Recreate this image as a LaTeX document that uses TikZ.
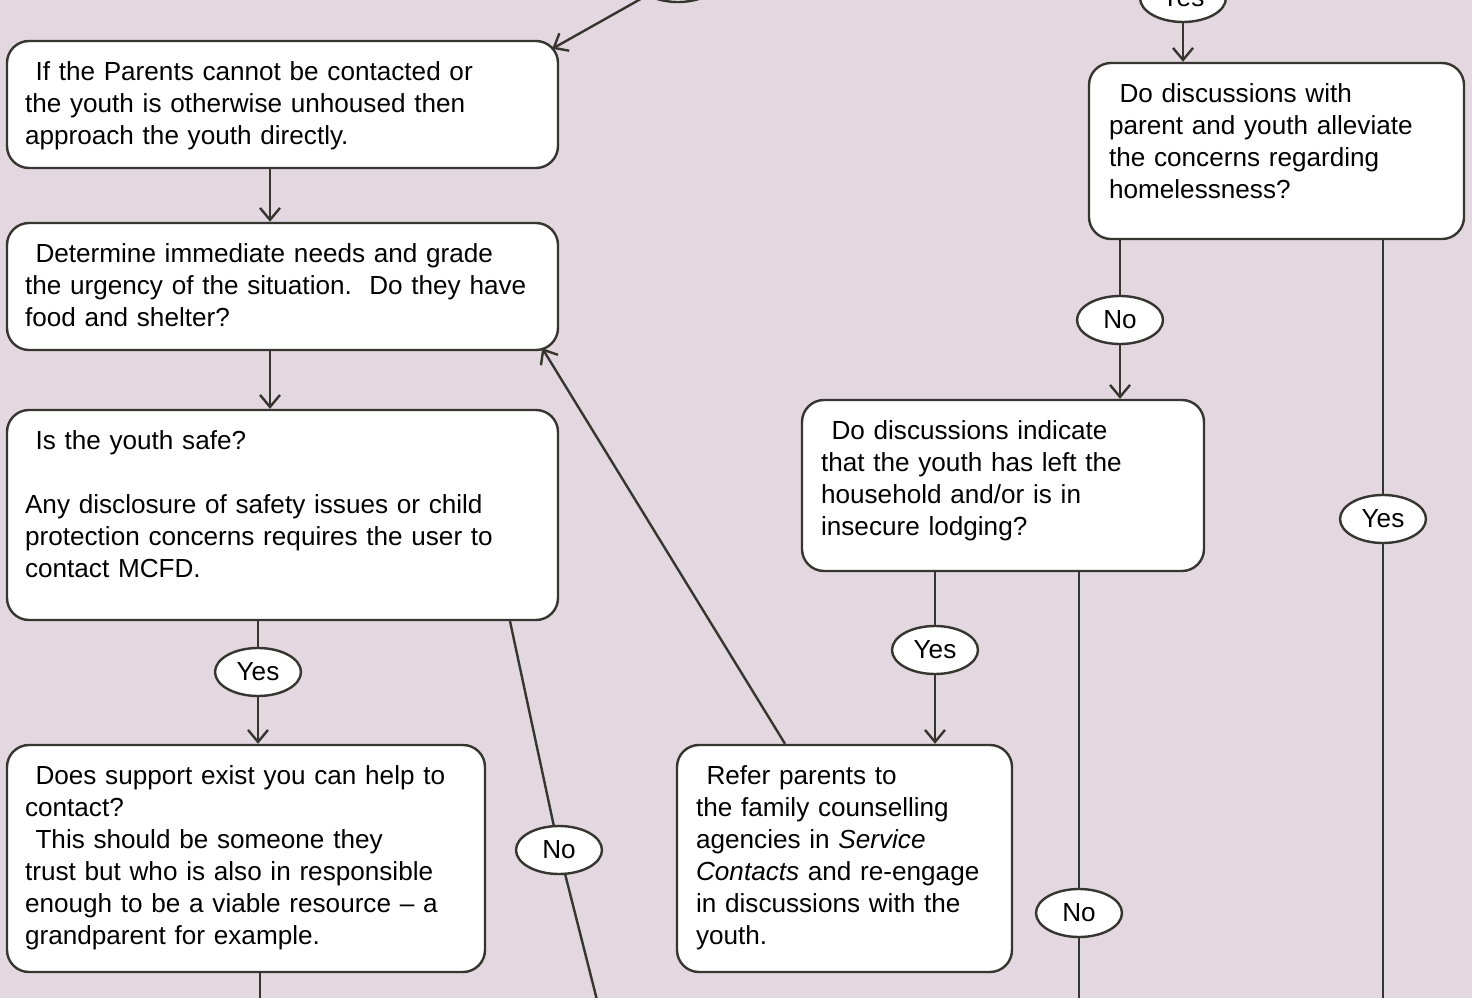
\documentclass[tikz,border=0pt]{standalone}
\usepackage{fontspec}
\setmainfont{Liberation Sans}
\usetikzlibrary{arrows.meta,shapes.geometric}
\definecolor{bgmauve}{RGB}{227,215,224}
\definecolor{inkgrey}{RGB}{55,53,48}
\newcommand{\lsp}{\hspace*{0.4em}}
\tikzset{
  box/.style={draw=inkgrey, line width=1.8pt, fill=white, rounded corners=16.5pt, inner sep=0pt},
  boxtext/.style={anchor=base west, inner sep=0pt, align=left, text width=#1, font=\fontsize{19.6}{24}\selectfont},
  tag/.style={ellipse, draw=inkgrey, line width=1.8pt, fill=white, minimum width=64.5pt, minimum height=36pt, inner sep=0pt, font=\fontsize{19.6}{24}\selectfont},
  link/.style={draw=inkgrey, line width=1.8pt},
  arr/.style={link, -{Straight Barb[length=9pt,width=15pt]}},
}
\begin{document}
\begin{tikzpicture}[x=0.75pt,y=0.75pt,yscale=-1,xscale=1]
\useasboundingbox (0,0) rectangle (1472,998);
\fill[bgmauve] (0,0) rectangle (1472,998);
\clip (0,0) rectangle (1472,998);

%Shape: Rounded Rect
\node[box, minimum width=413.25pt, minimum height=95.25pt] (parents) at (282.5,104.5) {};
\node[box, minimum width=413.25pt, minimum height=95.25pt] (needs) at (282.5,286.5) {};
\node[box, minimum width=413.25pt, minimum height=157.5pt] (safe) at (282.5,515) {};
\node[box, minimum width=358.5pt, minimum height=170.25pt] (supp) at (246,858.5) {};
\node[box, minimum width=251.25pt, minimum height=170.25pt] (refer) at (844.5,858.5) {};
\node[box, minimum width=301.5pt, minimum height=128.25pt] (query) at (1003,485.5) {};
\node[box, minimum width=281.25pt, minimum height=132pt] (relief) at (1276.5,151) {};

%Shape: Ellipse
\node[tag] (topE) at (678,-22) {};
\node[tag] (topY) at (1183,-2) {Yes};
\node[tag] (yesS) at (258,672) {Yes};
\node[tag] (noS) at (559,850) {No};
\node[tag] (yesF) at (935,650) {Yes};
\node[tag] (noF) at (1079,913) {No};
\node[tag] (noG) at (1120,320) {No};
\node[tag] (yesG) at (1383,519) {Yes};

%Straight Lines
\coordinate (exitD) at (260,1004);
\coordinate (exitC) at (598,1004);
\coordinate (exitF) at (1079,1004);
\coordinate (exitG) at (1383,1004);
\draw[arr] (topE) -- ([shift={(-7,9)}]parents.north east);
\draw[arr] ([shift={(-12.5,0)}]parents.south) -- ([shift={(-12.5,0)}]needs.north);
\draw[arr] ([shift={(-12.5,0)}]needs.south) -- ([shift={(-12.5,0)}]safe.north);
\draw[link] (safe.south -| yesS) -- (yesS);
\draw[arr] (yesS) -- (yesS |- supp.north);
\draw[link] ([shift={(227.5,0)}]safe.south) -- (noS);
\draw[link] (noS) -- (exitC);
\draw[link] (supp.south -| exitD) -- (exitD);
\draw[arr] ([shift={(-59.5,0)}]refer.north) -- ([shift={(-17,-3)}]needs.south east);
\draw[link] (query.south -| yesF) -- (yesF);
\draw[arr] (yesF) -- (yesF |- refer.north);
\draw[link] (query.south -| noF) -- (noF);
\draw[link] (noF) -- (exitF);
\draw[link] (relief.south -| noG) -- (noG);
\draw[arr] (noG) -- (noG |- query.north);
\draw[link] (relief.south -| yesG) -- (yesG);
\draw[link] (yesG) -- (exitG);
\draw[arr] (topY) -- (topY |- relief.north);

% Text Node
\node[boxtext=400pt] (tParents) at ([shift={(19,40.5)}]parents.north west)
  {\lsp If the Parents cannot be contacted or\\the youth is otherwise unhoused then\\approach the youth directly.};
\node[boxtext=400pt] (tNeeds) at ([shift={(19,40.5)}]needs.north west)
  {\lsp Determine immediate needs and grade\\the urgency of the situation.\ \ Do they have\\food and shelter?};
\node[boxtext=400pt] (tSafe) at ([shift={(19,40.5)}]safe.north west)
  {\lsp Is the youth safe?\\[24pt]Any disclosure of safety issues or child\\protection concerns requires the user to\\contact MCFD.};
\node[boxtext=350pt] (tSupp) at ([shift={(19,40.5)}]supp.north west)
  {\lsp Does support exist you can help to\\contact?\\\lsp This should be someone they\\trust but who is also in responsible\\enough to be a viable resource – a\\grandparent for example.};
\node[boxtext=245pt] (tRefer) at ([shift={(20,40.5)}]refer.north west)
  {\lsp Refer parents to\\the family counselling\\agencies in \textit{Service}\\\textit{Contacts} and re-engage\\in discussions with the\\youth.};
\node[boxtext=295pt] (tQuery) at ([shift={(20,40.5)}]query.north west)
  {\lsp Do discussions indicate\\that the youth has left the\\household and/or is in\\insecure lodging?};
\node[boxtext=275pt] (tRelief) at ([shift={(21,40.5)}]relief.north west)
  {\lsp Do discussions with\\parent and youth alleviate\\the concerns regarding\\homelessness?};

\end{tikzpicture}
\end{document}
